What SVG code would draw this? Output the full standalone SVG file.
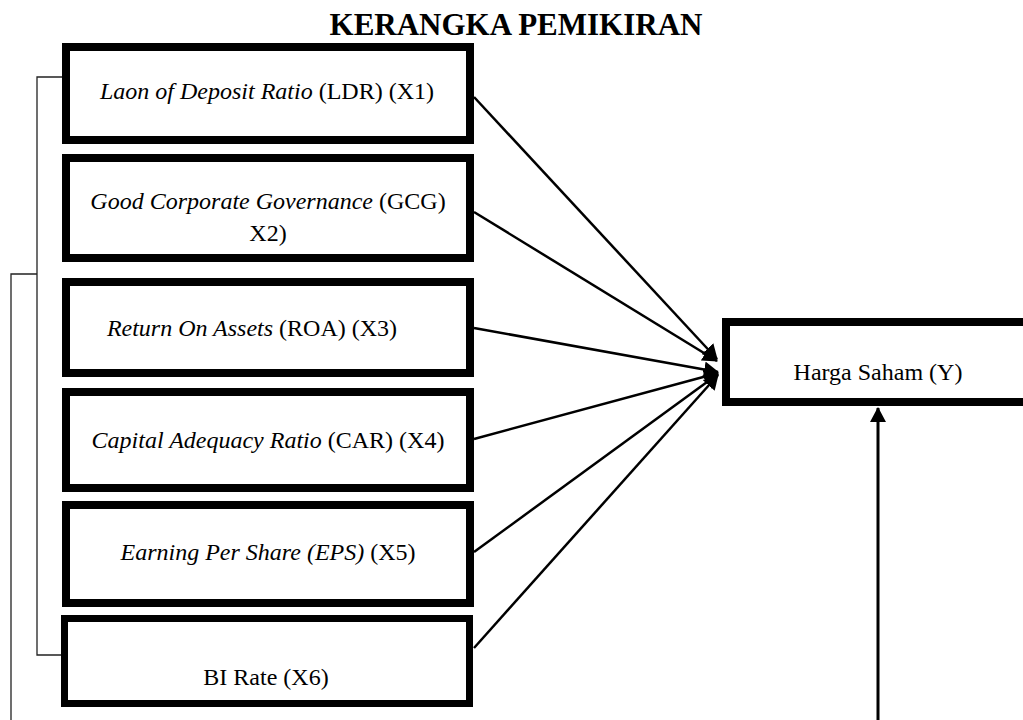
<svg xmlns="http://www.w3.org/2000/svg" width="1023" height="720" viewBox="0 0 1023 720">
<style>
.box{fill:#fff;stroke:#000;stroke-width:8}
.t{font-family:"Liberation Serif","Times New Roman",serif;font-size:24px;fill:#000;text-anchor:middle}
.i{font-style:italic}
.title{font-family:"Liberation Serif","Times New Roman",serif;font-size:31px;font-weight:bold;fill:#000;text-anchor:middle}
.c{stroke:#000;stroke-width:2.5;fill:none}
.br{stroke:#222;stroke-width:1.3;fill:none}
</style>
<defs>
<marker id="ah" markerUnits="userSpaceOnUse" markerWidth="16" markerHeight="16" refX="14" refY="8" orient="auto">
<path d="M0,0 L15,8 L0,16 Z" fill="#000"/>
</marker>
</defs>
<rect width="1023" height="720" fill="#fff"/>
<text class="title" x="516" y="35">KERANGKA PEMIKIRAN</text>
<g id="brackets">
<polyline class="br" points="62,77 37,77 37,655 61,655"/>
<polyline class="br" points="37,274 11,274 11,720"/>
</g>
<g id="x1"><rect class="box" x="66" y="47" width="404" height="93"/>
<text class="t" x="267" y="99"><tspan class="i">Laon of Deposit Ratio</tspan> (LDR) (X1)</text></g>
<g id="x2"><rect class="box" x="66" y="158" width="404" height="100"/>
<text class="t" x="268" y="209"><tspan class="i">Good Corporate Governance</tspan> (GCG)</text>
<text class="t" x="268" y="241">X2)</text></g>
<g id="x3"><rect class="box" x="66" y="282" width="404" height="91"/>
<text class="t" x="252" y="336"><tspan class="i">Return On Assets</tspan> (ROA) (X3)</text></g>
<g id="x4"><rect class="box" x="66" y="392" width="404" height="96"/>
<text class="t" x="268" y="448"><tspan class="i">Capital Adequacy Ratio</tspan> (CAR) (X4)</text></g>
<g id="x5"><rect class="box" x="66" y="505" width="404" height="98"/>
<text class="t" x="268" y="560"><tspan class="i">Earning Per Share (EPS)</tspan> (X5)</text></g>
<g id="x6"><rect class="box" x="64.5" y="618.5" width="405" height="85" style="stroke-width:7"/>
<text class="t" x="266" y="685">BI Rate (X6)</text></g>
<g id="y"><rect class="box" x="726" y="322" width="310" height="80"/>
<text class="t" x="878" y="380">Harga Saham (Y)</text></g>
<g id="connectors">
<line class="c" x1="474" y1="97" x2="717" y2="359" marker-end="url(#ah)"/>
<line class="c" x1="474" y1="212" x2="717" y2="361" marker-end="url(#ah)"/>
<line class="c" x1="474" y1="328" x2="718" y2="372" marker-end="url(#ah)"/>
<line class="c" x1="474" y1="439" x2="718" y2="373" marker-end="url(#ah)"/>
<line class="c" x1="474" y1="552" x2="718" y2="374" marker-end="url(#ah)"/>
<line class="c" x1="474" y1="648" x2="718" y2="375" marker-end="url(#ah)"/>
<line class="c" x1="878" y1="720" x2="878" y2="408" style="stroke-width:3" marker-end="url(#ah)"/>
</g>
</svg>
